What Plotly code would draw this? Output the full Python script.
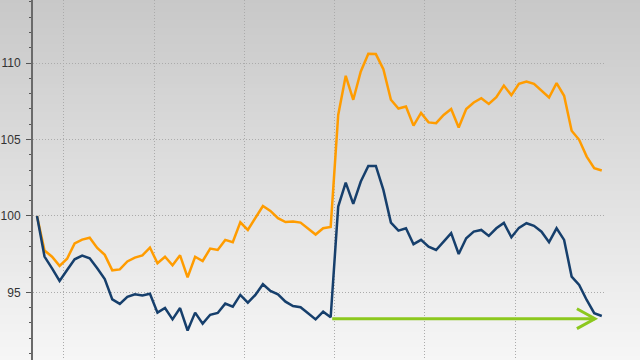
import plotly.graph_objects as go

# ---- data ----
idx = list(range(76))
series_orange = [100, 97.73, 97.33, 96.73, 97.2, 98.2, 98.45, 98.57, 97.9, 97.45,
                 96.44, 96.5, 97.02, 97.27, 97.42, 97.93, 96.9, 97.33, 96.77, 97.42,
                 95.98, 97.33, 97.05, 97.86, 97.77, 98.43, 98.28, 99.58, 99.08, 99.85,
                 100.65, 100.33, 99.85, 99.6, 99.63, 99.56, 99.15, 98.78, 99.19, 99.28,
                 106.61, 109.17, 107.6, 109.45, 110.61, 110.59, 109.6, 107.6, 107.03, 107.16,
                 105.91, 106.74, 106.12, 106.07, 106.61, 107.0, 105.78, 107.0, 107.42, 107.7,
                 107.33, 107.77, 108.53, 107.9, 108.64, 108.8, 108.64, 108.2, 107.75, 108.69,
                 107.86, 105.57, 104.98, 103.88, 103.12, 102.97]
series_blue = [100, 97.34, 96.57, 95.74, 96.46, 97.16, 97.4, 97.23, 96.57, 95.87,
               94.54, 94.24, 94.7, 94.87, 94.8, 94.91, 93.67, 93.97, 93.23, 93.97,
               92.5, 93.67, 92.95, 93.53, 93.65, 94.26, 94.06, 94.83, 94.32, 94.83,
               95.53, 95.09, 94.87, 94.39, 94.1, 94.02, 93.63, 93.23, 93.73, 93.37,
               100.61, 102.18, 100.79, 102.25, 103.27, 103.27, 101.7, 99.56, 99.04, 99.19,
               98.15, 98.43, 97.99, 97.77, 98.32, 98.87, 97.51, 98.54, 98.97, 99.08,
               98.69, 99.19, 99.54, 98.6, 99.22, 99.52, 99.35, 98.97, 98.28, 99.19,
               98.43, 96.03, 95.48, 94.5, 93.63, 93.45]
y_ticks = [95, 100, 105, 110]
x_grid = [3.58, 15.56, 27.55, 39.53, 51.52, 63.5]

arrow_y = 93.27
arrow_x0 = 39.2
arrow_x1 = 74.1

X_RANGE = [-0.53, 75.43]
Y_RANGE = [90.57, 114.13]

ORANGE = "#FF9C00"
BLUE = "#163F6C"
GREEN = "#8CC81E"
GRID = "#ABABAB"

fig = go.Figure()
fig.add_trace(go.Scatter(x=idx, y=series_orange, mode="lines",
                         line=dict(color=ORANGE, width=2.5), hoverinfo="skip"))
fig.add_trace(go.Scatter(x=idx, y=series_blue, mode="lines",
                         line=dict(color=BLUE, width=2.5), hoverinfo="skip"))

# background gradient (figure-wide), drawn below grid
shapes = []
n = 90
top = (200, 200, 200)
bot = (246, 246, 246)
for k in range(n):
    t = (k + 0.5) / n
    c = tuple(round(top[j] + (bot[j] - top[j]) * t) for j in range(3))
    shapes.append(dict(type="rect", xref="paper", yref="paper",
                       x0=-0.2, x1=1.2, y0=1 - (k + 1) / n - 0.001, y1=1 - k / n + 0.001,
                       fillcolor="rgb(%d,%d,%d)" % c, line=dict(width=0), layer="below"))

# green arrow
dx_head = 2.4
dy_head = 0.65
shapes.append(dict(type="line", xref="x", yref="y", x0=arrow_x0, x1=arrow_x1,
                   y0=arrow_y, y1=arrow_y, line=dict(color=GREEN, width=3), layer="above"))
shapes.append(dict(type="path", xref="x", yref="y",
                   path="M %f,%f L %f,%f L %f,%f" % (arrow_x1 - dx_head, arrow_y + dy_head,
                                                     arrow_x1, arrow_y,
                                                     arrow_x1 - dx_head, arrow_y - dy_head),
                   line=dict(color=GREEN, width=3), layer="above"))

axis_font = dict(family="Liberation Sans, Arial, sans-serif", size=12, color="#333333")

fig.update_layout(
    width=640, height=360,
    margin=dict(l=33, r=35, t=0, b=0),
    paper_bgcolor="rgba(0,0,0,0)",
    plot_bgcolor="rgba(0,0,0,0)",
    showlegend=False,
    shapes=shapes,
    xaxis=dict(range=X_RANGE, tickvals=x_grid, showticklabels=False, ticks="",
               showgrid=True, gridcolor=GRID, griddash="1px,2px", gridwidth=1,
               zeroline=False, showline=False, fixedrange=True),
    yaxis=dict(range=Y_RANGE, tickvals=y_ticks, ticks="outside", ticklen=5, tickwidth=1,
               tickcolor="#555555", tickfont=axis_font, showgrid=True, gridcolor=GRID,
               griddash="1px,2px", gridwidth=1, zeroline=False, showline=True,
               linecolor="#6A6A6A", linewidth=2,
               minor=dict(dtick=1, tick0=0, ticks="outside", ticklen=2, tickcolor="#555555",
                          showgrid=False),
               ticklabelstandoff=3),
    yaxis2=dict(range=Y_RANGE, overlaying="y", side="right", anchor="x",
                tickvals=y_ticks, ticks="outside", ticklen=5, tickcolor="#777777",
                tickfont=axis_font, showgrid=False, zeroline=False, showline=True,
                linecolor="#999999", linewidth=1,
                minor=dict(dtick=1, tick0=0, ticks="outside", ticklen=3, tickcolor="#777777",
                           showgrid=False),
                ticklabelstandoff=6),
)

fig.write_html("out.html")
